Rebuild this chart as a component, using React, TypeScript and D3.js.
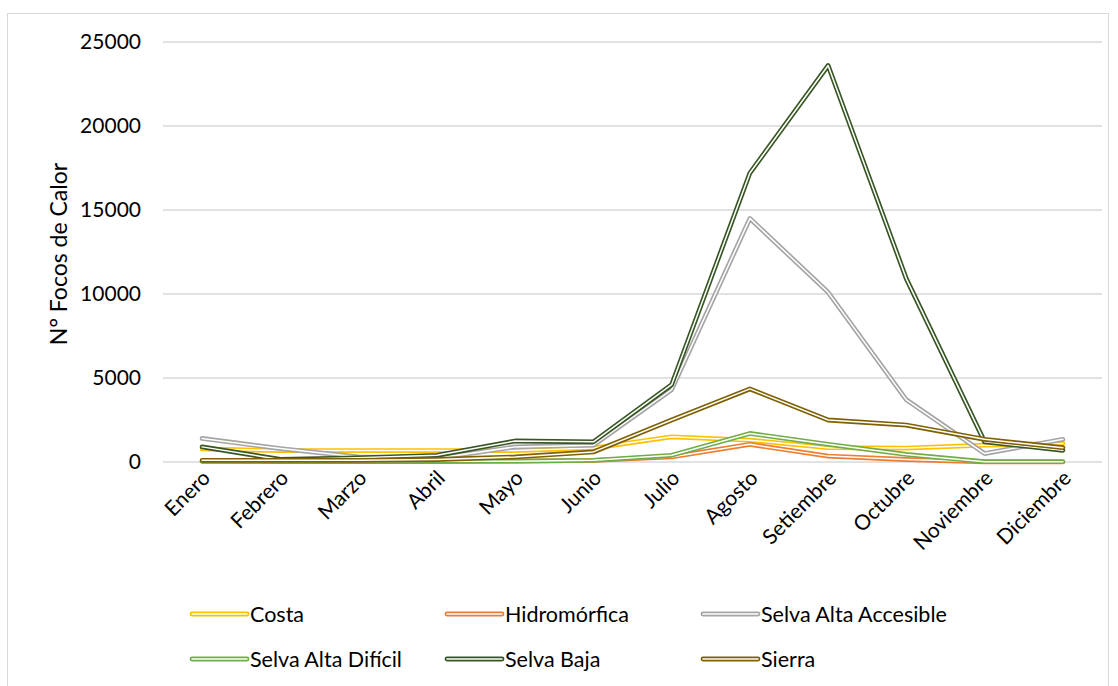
import React from "react";
import * as d3 from "d3";

const months = ["Enero", "Febrero", "Marzo", "Abril", "Mayo", "Junio", "Julio", "Agosto", "Setiembre", "Octubre", "Noviembre", "Diciembre"];
const seriesNames = ["Costa", "Hidromórfica", "Selva Alta Accesible", "Selva Alta Difícil", "Selva Baja", "Sierra"];
const costa = [780, 680, 680, 680, 680, 830, 1500, 1300, 850, 830, 1000, 1100];
const hidromorfica = [40, 30, 30, 30, 50, 100, 300, 1050, 350, 150, 10, 10];
const selvaAltaAccesible = [1400, 800, 300, 220, 900, 1000, 4300, 14500, 10100, 3700, 500, 1350];
const selvaAltaDificil = [50, 30, 30, 50, 50, 100, 400, 1700, 1050, 450, 20, 20];
const selvaBaja = [900, 150, 250, 400, 1250, 1200, 4600, 17200, 23600, 10900, 1200, 700];
const sierra = [100, 100, 100, 150, 300, 600, 2500, 4350, 2500, 2200, 1350, 850];
const colors = ["#FFC000", "#ED7D31", "#A5A5A5", "#70AD47", "#375623", "#7F6000"];
const yTicks = [0, 5000, 10000, 15000, 20000, 25000];

const allSeries = [costa, hidromorfica, selvaAltaAccesible, selvaAltaDificil, selvaBaja, sierra];

export default function App() {
  const W = 1118, H = 686;
  const left = 163, right = 1102, top = 42, bottom = 462;
  const x = d3.scalePoint<string>().domain(months).range([left, right]).padding(0.5);
  const y = d3.scaleLinear().domain([0, 25000]).range([bottom, top]);
  const line = d3.line<number>().x((_, i) => x(months[i]) as number).y((d) => y(d));
  const font = "Lato, 'Open Sans', sans-serif";
  const legendPos = [
    [192, 614], [447, 614], [703, 614],
    [192, 659], [447, 659], [703, 659],
  ];
  return (
    <svg width={W} height={H} style={{ position: "absolute", left: 0, top: 0, background: "#fff" }} fontFamily={font}>
      <rect x={7.5} y={13.5} width={1101} height={690} fill="#fff" stroke="#D9D9D9" strokeWidth={1} />
      {yTicks.map((t) => (
        <g key={t}>
          <line x1={left} x2={right} y1={y(t)} y2={y(t)} stroke="#D9D9D9" strokeWidth={1.3} />
          <text x={141} y={y(t)} dy="0.35em" textAnchor="end" fontSize={21} fill="#000">{t}</text>
        </g>
      ))}
      <text transform={`translate(67,${(top + bottom) / 2 + 2}) rotate(-90)`} textAnchor="middle" fontSize={23} fill="#000">N° Focos de Calor</text>
      {months.map((m) => (
        <text key={m} transform={`translate(${(x(m) as number) - 1},${469}) rotate(-45)`} textAnchor="end" dy="0.7em" fontSize={21} fill="#000">{m}</text>
      ))}
      {allSeries.map((s, i) => (
        <g key={seriesNames[i]}>
          <path d={line(s) || ""} fill="none" stroke={colors[i]} strokeWidth={4.8} strokeLinejoin="round" strokeLinecap="round" />
          <path d={line(s) || ""} fill="none" stroke="#fff" strokeWidth={1.5} strokeLinejoin="round" strokeLinecap="round" />
        </g>
      ))}
      {seriesNames.map((n, i) => {
        const [lx, ly] = legendPos[i];
        return (
          <g key={n}>
            <line x1={lx} x2={lx + 55} y1={ly} y2={ly} stroke={colors[i]} strokeWidth={4.8} strokeLinecap="round" />
            <line x1={lx} x2={lx + 55} y1={ly} y2={ly} stroke="#fff" strokeWidth={1.5} strokeLinecap="round" />
            <text x={lx + 58} y={ly} dy="0.36em" fontSize={21.5} fill="#000">{n}</text>
          </g>
        );
      })}
    </svg>
  );
}
